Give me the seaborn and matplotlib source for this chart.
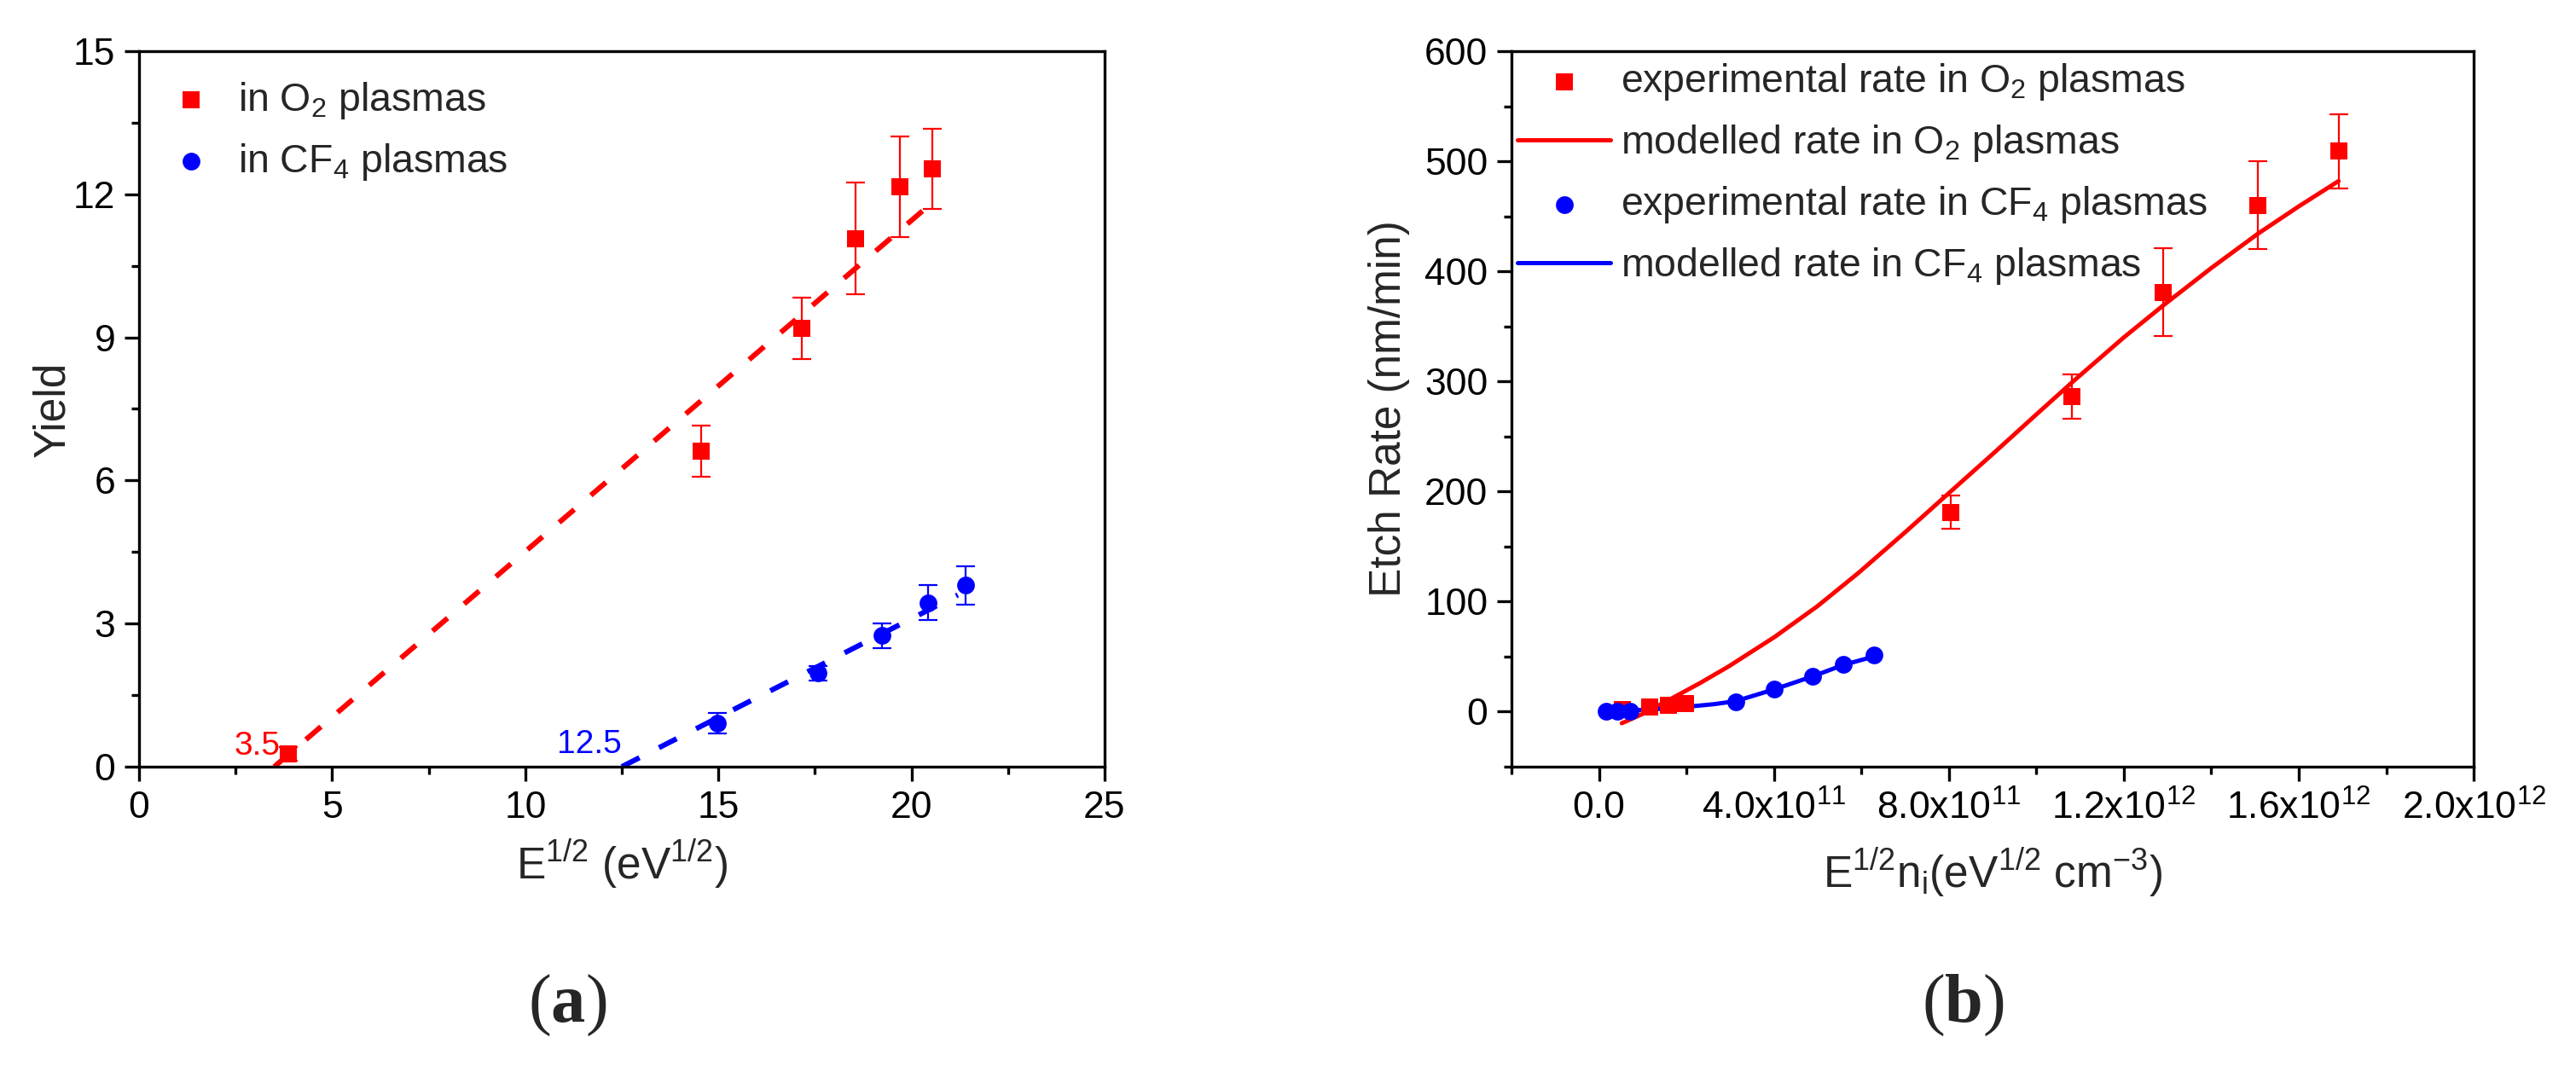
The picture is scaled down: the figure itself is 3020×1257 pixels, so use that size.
import numpy as np
import matplotlib
matplotlib.use('Agg')
import matplotlib.pyplot as plt
from matplotlib.ticker import MultipleLocator, FuncFormatter
import seaborn as sns

# ---- panel (a): sputter yield vs E^1/2 ----
o2_sqrtE = [3.87, 14.56, 17.15, 18.56, 19.7, 20.55]
o2_yield = [0.27, 6.62, 9.19, 11.07, 12.16, 12.54]
o2_yield_err = [0.15, 0.54, 0.65, 1.17, 1.06, 0.84]
cf4_sqrtE = [14.98, 17.57, 19.24, 20.43, 21.4]
cf4_yield = [0.91, 1.96, 2.75, 3.44, 3.8]
cf4_yield_err = [0.22, 0.15, 0.26, 0.36, 0.4]
# linear fits (threshold energies 3.5 and 12.5)
o2_fit_x = [3.5, 20.3]
o2_fit_y = [0.0, 11.66]
cf4_fit_x = [12.5, 21.2]
cf4_fit_y = [0.0, 3.6]
o2_threshold = '3.5'
cf4_threshold = '12.5'

# ---- panel (b): etch rate vs E^1/2 n_i ----
o2_flux = [0.54e11, 1.15e11, 1.58e11, 1.98e11, 8.04e11, 10.81e11, 12.9e11, 15.06e11, 16.91e11]
o2_rate = [1.9, 4.0, 6.0, 7.1, 181, 286, 381, 460, 509]
o2_rate_err = [0, 0, 0, 0, 15, 20, 40, 40, 34]
cf4_flux = [0.17e11, 0.42e11, 0.70e11, 3.12e11, 4.01e11, 4.88e11, 5.59e11, 6.28e11]
cf4_rate = [0.6, 0.6, 0.6, 8.9, 20.7, 32.3, 43.2, 51.5]
o2_model_flux = [0.52e11, 1.0e11, 1.66e11, 2.31e11, 2.96e11, 4.02e11, 5.0e11, 5.93e11, 7.0e11,
                 8.04e11, 9.0e11, 10.0e11, 10.84e11, 12.0e11, 12.9e11, 14.0e11, 15.06e11,
                 16.0e11, 16.91e11]
o2_model_rate = [-10.5, -2, 12, 26, 41, 68, 96, 126, 163, 200, 234, 270, 300, 340, 369, 403,
                 434, 459, 482]
cf4_model_flux = [0.16e11, 0.7e11, 1.66e11, 2.63e11, 3.12e11, 4.01e11, 4.88e11, 5.59e11, 6.28e11]
cf4_model_rate = [0.5, 1.0, 3.1, 6.8, 9.5, 20.3, 32, 42.5, 50]

sns.set_theme(style='ticks')
plt.rcParams['font.family'] = ['Liberation Sans', 'DejaVu Sans']
plt.rcParams.update({
    'mathtext.fontset': 'custom',
    'mathtext.rm': 'Liberation Sans',
    'mathtext.it': 'Liberation Sans:italic',
    'mathtext.bf': 'Liberation Serif:bold',
    'axes.edgecolor': 'black',
    'axes.linewidth': 1.2,
    'xtick.color': 'black',
    'ytick.color': 'black',
    'xtick.direction': 'out',
    'ytick.direction': 'out',
    'xtick.major.size': 6,
    'ytick.major.size': 6,
    'xtick.minor.size': 3.2,
    'ytick.minor.size': 3.2,
    'xtick.major.width': 1.2,
    'ytick.major.width': 1.2,
    'xtick.minor.width': 1.2,
    'ytick.minor.width': 1.2,
    'xtick.major.pad': 4,
    'ytick.major.pad': 4,
    'xtick.labelsize': 16,
    'ytick.labelsize': 16,
    'axes.labelsize': 18.5,
    'legend.fontsize': 16.7,
})

RED = '#ff0000'
BLUE = '#0000ff'
DASH = (0, (3.8, 4.2))

fig = plt.figure(figsize=(15.1, 6.285), dpi=200)
ax1 = fig.add_axes([0.054, 0.2848, 0.3748, 0.6675])
ax2 = fig.add_axes([0.5868, 0.2848, 0.3735, 0.6675])

# ---------- (a) ----------
sns.lineplot(x=o2_fit_x, y=o2_fit_y, ax=ax1, color=RED, lw=2.2, linestyle=DASH, zorder=2)
sns.lineplot(x=cf4_fit_x, y=cf4_fit_y, ax=ax1, color=BLUE, lw=2.2, linestyle=DASH, zorder=2)
ax1.errorbar(o2_sqrtE, o2_yield, yerr=o2_yield_err, fmt='none', ecolor=RED,
             elinewidth=0.8, capsize=4, capthick=0.8, zorder=3)
ax1.errorbar(cf4_sqrtE, cf4_yield, yerr=cf4_yield_err, fmt='none', ecolor=BLUE,
             elinewidth=0.8, capsize=4, capthick=0.8, zorder=3)
sns.scatterplot(x=o2_sqrtE, y=o2_yield, ax=ax1, marker='s', s=49, color=RED,
                linewidth=0, zorder=4, label=r'in O$_2$ plasmas')
sns.scatterplot(x=cf4_sqrtE, y=cf4_yield, ax=ax1, marker='o', s=56, color=BLUE,
                linewidth=0, zorder=4, label=r'in CF$_4$ plasmas')
ax1.text(float(o2_threshold) + 0.15, 0.1, o2_threshold, color=RED, fontsize=14,
         ha='right', va='bottom')
ax1.text(float(cf4_threshold), 0.15, cf4_threshold, color=BLUE, fontsize=14,
         ha='right', va='bottom')

ax1.set_xlim(0, 25)
ax1.set_ylim(0, 15)
ax1.xaxis.set_major_locator(MultipleLocator(5))
ax1.xaxis.set_minor_locator(MultipleLocator(2.5))
ax1.yaxis.set_major_locator(MultipleLocator(3))
ax1.yaxis.set_minor_locator(MultipleLocator(1.5))
ax1.set_xlabel(r'E$^{1/2}$ (eV$^{1/2}$)', labelpad=5)
ax1.set_ylabel('Yield', labelpad=0)
ax1.legend(loc='upper left', bbox_to_anchor=(0.0057, 0.96), frameon=False,
           borderaxespad=0, borderpad=0, handlelength=2.35, handletextpad=0.0,
           labelspacing=0.52)

# ---------- (b) ----------
sns.lineplot(x=o2_model_flux, y=o2_model_rate, ax=ax2, color=RED, lw=1.8, zorder=2,
             estimator=None, sort=False, label=r'modelled rate in O$_2$ plasmas')
sns.lineplot(x=cf4_model_flux, y=cf4_model_rate, ax=ax2, color=BLUE, lw=1.8, zorder=2,
             estimator=None, sort=False, label=r'modelled rate in CF$_4$ plasmas')
err = np.array(o2_rate_err, dtype=float)
has_err = err > 0
ax2.errorbar(np.array(o2_flux)[has_err], np.array(o2_rate)[has_err], yerr=err[has_err],
             fmt='none', ecolor=RED, elinewidth=0.8, capsize=4, capthick=0.8, zorder=3)
sns.scatterplot(x=o2_flux, y=o2_rate, ax=ax2, marker='s', s=49, color=RED,
                linewidth=0, zorder=4, label=r'experimental rate in O$_2$ plasmas')
sns.scatterplot(x=cf4_flux, y=cf4_rate, ax=ax2, marker='o', s=56, color=BLUE,
                linewidth=0, zorder=4, label=r'experimental rate in CF$_4$ plasmas')

ax2.set_xlim(-2e11, 2e12)
ax2.set_ylim(-50, 600)
ax2.xaxis.set_major_locator(MultipleLocator(4e11))
ax2.xaxis.set_minor_locator(MultipleLocator(2e11))
ax2.yaxis.set_major_locator(MultipleLocator(100))
ax2.yaxis.set_minor_locator(MultipleLocator(50))


def sci_fmt(v, pos):
    if abs(v) < 1:
        return '0.0'
    exp = int(np.floor(np.log10(abs(v)) + 1e-9))
    return f'{v / 10 ** exp:.1f}x10$^{{{exp}}}$'


ax2.xaxis.set_major_formatter(FuncFormatter(sci_fmt))
ax2.set_xlabel(r'E$^{1/2}$n$_\mathregular{i}$(eV$^{1/2}$ cm$^{-3}$)', labelpad=8)
ax2.set_ylabel('Etch Rate (nm/min)', labelpad=6)

h, l = ax2.get_legend_handles_labels()
order = [r'experimental rate in O$_2$ plasmas', r'modelled rate in O$_2$ plasmas',
         r'experimental rate in CF$_4$ plasmas', r'modelled rate in CF$_4$ plasmas']
hd = dict(zip(l, h))
ax2.legend([hd[k] for k in order], order, loc='upper left',
           bbox_to_anchor=(0.0062, 0.986), frameon=False, borderaxespad=0,
           borderpad=0, handlelength=2.35, handletextpad=0.26, labelspacing=0.52)

for ax in (ax1, ax2):
    for side in ('top', 'right', 'left', 'bottom'):
        ax.spines[side].set_visible(True)
        ax.spines[side].set_linewidth(1.2)
    ax.tick_params(which='both', top=False, right=False)

fig.text(0.2202, 0.062, r'($\mathbf{a}$)', fontsize=29, family='Liberation Serif',
         ha='center', va='center')
fig.text(0.762, 0.062, r'($\mathbf{b}$)', fontsize=29, family='Liberation Serif',
         ha='center', va='center')

fig.savefig('out.png', dpi=200, facecolor='white')
